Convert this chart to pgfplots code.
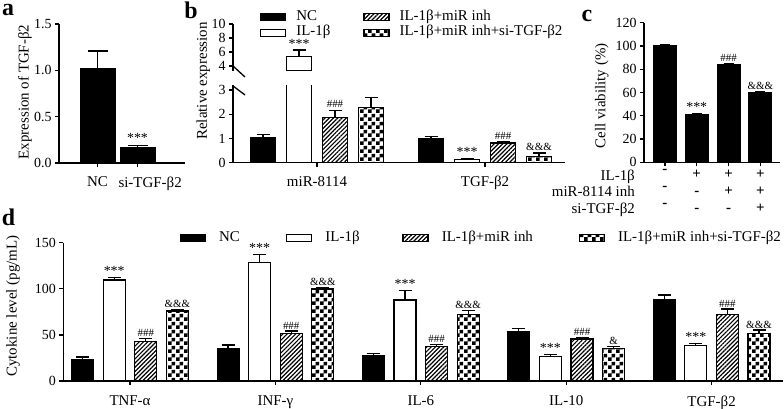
\documentclass[border=0pt]{standalone}
\usepackage{fontspec}
\setmainfont{Liberation Serif}
\usepackage{pgfplots}
\pgfplotsset{compat=1.18}
\usetikzlibrary{patterns,patterns.meta}

\pgfdeclarepatternformonly{checker}{\pgfpointorigin}{\pgfqpoint{8bp}{8bp}}{\pgfqpoint{8bp}{8bp}}{%
  \pgfpathrectangle{\pgfpointorigin}{\pgfqpoint{4bp}{4bp}}%
  \pgfpathrectangle{\pgfqpoint{4bp}{4bp}}{\pgfqpoint{4bp}{4bp}}%
  \pgfusepath{fill}}

\newcommand{\tickfont}{\fontsize{14}{14}\selectfont}
\newcommand{\labfont}{\fontsize{15}{15}\selectfont}
\newcommand{\annfont}{\fontsize{14}{14}\selectfont}
\newcommand{\smallann}{\fontsize{11}{11}\selectfont}

\pgfplotsset{
  prism/.style={
    scale only axis,
    axis x line*=bottom, axis y line*=left,
    axis line style={line width=1.4bp},
    every tick/.style={line width=1.3bp, black},
    tick align=outside,
    major tick length=4bp,
    tick label style={font=\tickfont},
    label style={font=\labfont},
    /pgf/number format/assume math mode=true,
    ymin=0,
    legend image code/.code={\draw[##1, line width=1.3bp] (0bp,-3.5bp) rectangle (25bp,3.5bp);},
  },
  eb/.style={/pgfplots/error bars/y dir=plus, /pgfplots/error bars/y explicit,
    /pgfplots/error bars/error bar style={line width=1.3bp, black, solid},
    /pgfplots/error bars/error mark options={rotate=90, line width=1.3bp, mark size=#1, black, solid}},
  eb/.default=6.5bp,
  blackbar/.style={ybar, bar shift=0bp, fill=black, draw=black, line width=1bp, forget plot},
  whitebar/.style={ybar, bar shift=0bp, fill=white, draw=black, line width=1.3bp, forget plot},
  hatchbar/.style={ybar, bar shift=0bp, draw=black, line width=1.3bp, pattern={Lines[angle=45,distance=3bp,line width=1.2bp]}, pattern color=black, forget plot},
  checkbar/.style={ybar, bar shift=0bp, draw=black, line width=1.3bp, pattern=checker, pattern color=black, forget plot},
  ann/.style={ybar, bar shift=0bp, draw=none, fill=none, forget plot, nodes near coords, point meta=explicit symbolic,
    every node near coord/.append style={anchor=south, font=#1, inner sep=1.5bp, black}},
  ann/.default=\annfont,
}

\begin{document}
\begin{tikzpicture}
\path[use as bounding box] (0,0) rectangle (784bp,-409bp);

% panel letters
\node[anchor=base, font=\fontsize{24}{24}\bfseries, inner sep=0pt, text height=11bp] at (8bp,-15.5bp) {a};
\node[anchor=base, font=\fontsize{24}{24}\bfseries, inner sep=0pt] at (191bp,-18bp) {b};
\node[anchor=base, font=\fontsize{24}{24}\bfseries, inner sep=0pt] at (587bp,-21.7bp) {c};
\node[anchor=base, font=\fontsize{24}{24}\bfseries, inner sep=0pt] at (8.5bp,-225bp) {d};

% ---------------- panel a
\begin{axis}[prism, at={(59bp,-163bp)}, anchor=south west, width=126bp, height=139bp,
  xmin=-0.9625, xmax=2.1875, ymax=1.5, ytick={0,0.5,1,1.5},
  yticklabel style={/pgf/number format/fixed, /pgf/number format/fixed zerofill, /pgf/number format/precision=1},
  xtick={0,1}, xticklabels={NC, {\makebox[0pt][l]{\hspace{-19bp}si-TGF-β2}}}, xticklabel style={font=\labfont, yshift=-6bp},
  ylabel={Expression of TGF-β2}, ylabel style={at={(axis description cs:-0.27,0.511)}, anchor=center}]
\addplot[blackbar, bar width=35bp, eb=10bp] coordinates {(0,1.02) +- (0,0.19) (1,0.17) +- (0,0.02)};
\addplot[ann, bar width=35bp] coordinates {(1,0.2) [***]};
\end{axis}

% ---------------- panel b lower
\begin{axis}[prism, at={(233bp,-162.7bp)}, anchor=south west, width=332bp, height=77.4bp,
  xmin=-0.5, xmax=1.476, ymax=3.2, ytick={0,1,2,3},
  xtick={0,1}, xticklabels={miR-8114, TGF-β2}, xticklabel style={font=\labfont, yshift=-6bp},
  ylabel={Relative expression}, ylabel style={at={(axis description cs:-0.0895,1.056)}, anchor=center},
  extra description/.code={\draw[line width=1.3bp] (0,1) ++(0,-0.7bp) -- ++(12bp,-9bp);}]
\addplot[blackbar, bar width=25bp, eb] coordinates {(-0.3214,1.05) +- (0,0.12) (0.6786,1.02) +- (0,0.05)};
\addplot[whitebar, bar width=25bp, eb] coordinates {(-0.1071,5.33) (0.8929,0.14) +- (0,0.02)};
\addplot[hatchbar, bar width=25bp, eb] coordinates {(0.1071,1.87) +- (0,0.3) (1.1071,0.82) +- (0,0.03)};
\addplot[checkbar, bar width=25bp, eb] coordinates {(0.3214,2.27) +- (0,0.44) (1.3214,0.27) +- (0,0.13)};
\addplot[ann=\smallann, bar width=25bp] coordinates {(0.1071,2.2) [\#\#\#] (1.1071,0.88) [\#\#\#]};
\addplot[ann, bar width=25bp] coordinates {(0.8929,0.18) [***]};
\addplot[ann=\smallann, bar width=25bp] coordinates {(1.3214,0.42) [\&\&\&]};
\end{axis}

% ---------------- panel b upper
\begin{axis}[prism, at={(233bp,-70.9bp)}, anchor=south west, width=332bp, height=46.9bp,
  xmin=-0.5, xmax=1.476, ymin=3.3, ymax=10, ytick={4,6,8,10}, axis x line=none,
  extra description/.code={\draw[line width=1.3bp] (0,0) ++(0,4.9bp) -- ++(12bp,-11bp);},
  legend columns=2,
  legend cell align=left,
  legend style={draw=none, fill=none, at={(axis description cs:0.0813,0.979)}, anchor=west,
    inner sep=0pt, outer sep=0pt, column sep=0pt, row sep=4.4bp,
    font=\labfont, nodes={inner sep=0pt, text height=8.5bp, text depth=2.5bp},
    /tikz/every odd column/.append style={column sep=10bp}}]
\addplot[whitebar, bar width=25bp, eb] coordinates {(-0.1071,5.33) +- (0,0.95)};
\addplot[ann, bar width=25bp] coordinates {(-0.1071,6.3) [***]};
\addlegendimage{fill=black, draw=black}
\addlegendentry{\makebox[67bp][l]{NC}}
\addlegendimage{draw=black, pattern={Lines[angle=45,distance=3bp,line width=1.2bp]}}
\addlegendentry{IL-1β+miR inh}
\addlegendimage{fill=white, draw=black}
\addlegendentry{\makebox[67bp][l]{IL-1β}}
\addlegendimage{draw=black, pattern=checker}
\addlegendentry{IL-1β+miR inh+si-TGF-β2}
\end{axis}

% ---------------- panel c
\begin{axis}[prism, at={(644bp,-162.3bp)}, anchor=south west, width=136bp, height=139.6bp,
  xmin=-0.66, xmax=3.62, ymax=120, ytick={0,20,...,120},
  xtick={0,1,2,3},
  xticklabels={{\textbf{-}\\\textbf{-}\\\textbf{-}},{\textbf{+}\\\textbf{-}\\\textbf{-}},{\textbf{+}\\\textbf{+}\\\textbf{-}},{\textbf{+}\\\textbf{+}\\\textbf{+}}},
  xticklabel style={align=center, font=\fontsize{15}{17}\selectfont},
  ylabel={Cell viability (\%)}, ylabel style={at={(axis description cs:-0.311,0.476)}, anchor=center},
  extra description/.code={
    \node[anchor=east, font=\labfont, inner sep=0pt, text height=10bp, text depth=3bp] at (-0.066,-0.103) {IL-1β};
    \node[anchor=east, font=\labfont, inner sep=0pt, text height=10bp, text depth=3bp] at (-0.066,-0.222) {miR-8114 inh};
    \node[anchor=east, font=\labfont, inner sep=0pt, text height=10bp, text depth=3bp] at (-0.066,-0.340) {si-TGF-β2};
  }]
\addplot[blackbar, bar width=23bp, eb=5bp] coordinates {(0,100) +- (0,0.8) (1,41.5) +- (0,0.6) (2,84) +- (0,0.5) (3,60) +- (0,0.6)};
\addplot[ann, bar width=23bp] coordinates {(1,42.5) [***]};
\addplot[ann=\smallann, bar width=23bp] coordinates {(2,85) [\#\#\#] (3,61) [\&\&\&]};
\end{axis}

% ---------------- panel d
\begin{axis}[prism, at={(63.3bp,-381bp)}, anchor=south west, width=719.7bp, height=138.3bp,
  xmin=-0.459, xmax=4.491, ymax=150, ytick={0,50,100,150},
  xtick={0,1,2,3,4}, xticklabels={TNF-α, INF-γ, IL-6, IL-10, TGF-β2}, xticklabel style={font=\labfont, yshift=-7bp},
  ylabel={Cytokine level (pg/mL)}, ylabel style={at={(axis description cs:-0.0699,0.542)}, anchor=center},
  legend columns=4,
  legend cell align=left,
  legend style={draw=none, fill=none, at={(axis description cs:0.162,1.034)}, anchor=west,
    inner sep=0pt, outer sep=0pt, column sep=0pt,
    font=\labfont, nodes={inner sep=0pt, text height=8.5bp, text depth=2.5bp},
    /tikz/every odd column/.append style={column sep=13bp}}]
\addplot[blackbar, bar width=22bp, eb] coordinates {(-0.326,23.5) +- (0,2.5) (0.674,35.4) +- (0,3.6) (1.674,28.2) +- (0,1.8) (2.674,54.2) +- (0,2.9) (3.674,87.9) +- (0,5.4)};
\addplot[whitebar, bar width=22bp, eb] coordinates {(-0.1087,109.5) +- (0,2.9) (0.8913,128.3) +- (0,9.1) (1.8913,87.9) +- (0,10.1) (2.8913,26.4) +- (0,2.2) (3.8913,38.7) +- (0,2.2)};
\addplot[hatchbar, bar width=22bp, eb] coordinates {(0.1087,42.7) +- (0,3.6) (1.1087,51.3) +- (0,2.9) (2.1087,37.2) +- (0,2.6) (3.1087,45.6) +- (0,1.8) (4.1087,71.9) +- (0,6.2)};
\addplot[checkbar, bar width=22bp, eb] coordinates {(0.326,75.9) +- (0,1.8) (1.326,99.8) +- (0,1.8) (2.326,71.9) +- (0,4.4) (3.326,35.1) +- (0,2.1) (4.326,51.3) +- (0,4.0)};
\addplot[ann, bar width=22bp] coordinates {(-0.1087,112.4) [***] (0.8913,137.4) [***] (1.8913,98) [***] (2.8913,28.6) [***] (3.8913,40.9) [***]};
\addplot[ann=\smallann, bar width=22bp] coordinates {(0.1087,46.3) [\#\#\#] (1.1087,54.2) [\#\#\#] (2.1087,39.8) [\#\#\#] (3.1087,47.4) [\#\#\#] (4.1087,78.1) [\#\#\#]};
\addplot[ann=\smallann, bar width=22bp] coordinates {(0.326,77.7) [\&\&\&] (1.326,101.6) [\&\&\&] (2.326,76.3) [\&\&\&] (3.326,37.2) [\&] (4.326,55.3) [\&\&\&]};
\addlegendimage{fill=black, draw=black}
\addlegendentry{\makebox[67bp][l]{NC}}
\addlegendimage{fill=white, draw=black}
\addlegendentry{\makebox[77bp][l]{IL-1β}}
\addlegendimage{draw=black, pattern={Lines[angle=45,distance=3bp,line width=1.2bp]}}
\addlegendentry{\makebox[137bp][l]{IL-1β+miR inh}}
\addlegendimage{draw=black, pattern=checker}
\addlegendentry{IL-1β+miR inh+si-TGF-β2}
\end{axis}
\end{tikzpicture}
\end{document}
